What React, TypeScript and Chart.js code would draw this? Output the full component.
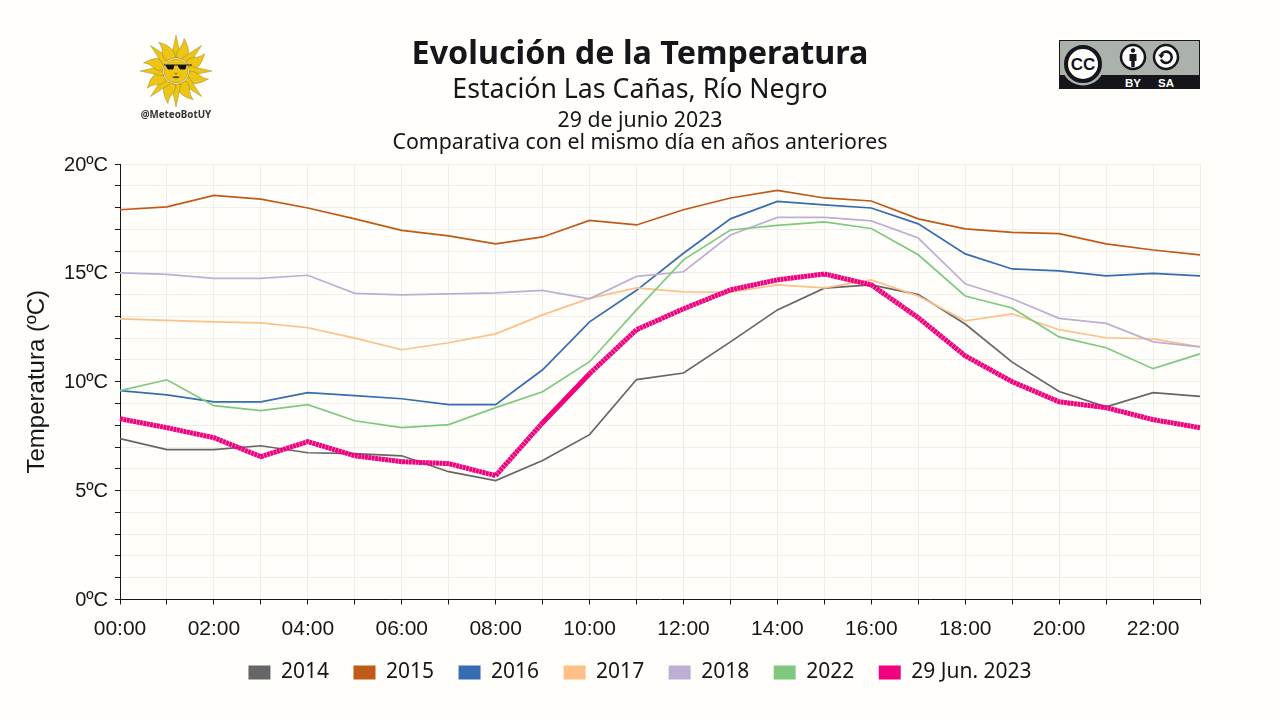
import React, { useEffect, useRef } from 'react';
import Chart from 'chart.js/auto';

const hours = ['00:00','01:00','02:00','03:00','04:00','05:00','06:00','07:00','08:00','09:00','10:00','11:00','12:00','13:00','14:00','15:00','16:00','17:00','18:00','19:00','20:00','21:00','22:00','23:00'];

const t2014 = [7.39,6.88,6.88,7.06,6.74,6.70,6.60,5.87,5.46,6.38,7.57,10.1,10.4,11.83,13.3,14.3,14.45,14.0,12.65,10.9,9.55,8.85,9.5,9.33];
const t2015 = [17.9,18.03,18.56,18.39,17.98,17.48,16.95,16.7,16.33,16.65,17.41,17.2,17.9,18.44,18.79,18.44,18.3,17.48,17.02,16.86,16.8,16.33,16.05,15.83];
const t2016 = [9.59,9.4,9.08,9.08,9.5,9.36,9.22,8.95,8.95,10.55,12.75,14.2,15.9,17.48,18.28,18.12,17.98,17.25,15.87,15.18,15.09,14.86,14.98,14.86];
const t2017 = [12.89,12.82,12.75,12.7,12.48,12.0,11.47,11.79,12.2,13.07,13.83,14.31,14.13,14.11,14.45,14.31,14.68,13.94,12.8,13.12,12.39,12.02,11.97,11.6];
const t2018 = [15.0,14.93,14.75,14.75,14.89,14.06,13.99,14.04,14.08,14.2,13.81,14.84,15.05,16.74,17.55,17.55,17.39,16.6,14.5,13.81,12.91,12.68,11.83,11.6];
const t2022 = [9.59,10.09,8.9,8.67,8.95,8.21,7.89,8.03,8.81,9.54,10.92,13.3,15.6,16.97,17.18,17.34,17.04,15.83,13.94,13.39,12.06,11.56,10.6,11.28];
const t2023 = [8.3,7.89,7.43,6.56,7.25,6.6,6.33,6.24,5.69,8.12,10.37,12.39,13.35,14.22,14.68,14.95,14.45,12.94,11.19,10.0,9.08,8.81,8.26,7.89];

const seriesNames = ['2014', '2015', '2016', '2017', '2018', '2022', '29 Jun. 2023'];
const seriesValues = [t2014, t2015, t2016, t2017, t2018, t2022, t2023];
const seriesColors = ['#666666', '#bf5b17', '#386cb0', '#fdc086', '#beaed4', '#7fc97f', '#f0027f'];

const BG = '#fffefb';
const GRID = '#efeee8';
const INK = '#16161a';
const TEXT_FONT = '"Noto Sans", sans-serif';
const AXIS_FONT = '"Liberation Sans", Arial, sans-serif';
const DASH = [3, 0.4];

// sol de la bandera, solo decoracion
const Sun = () => {
  const rays = [];
  for (let i = 0; i < 16; i++) {
    const straight = i % 2 === 0;
    rays.push(
      <path
        key={i}
        transform={`rotate(${i * 22.5} 36 36)`}
        d={straight
          ? 'M31 23 L36 0 L41 23 Z'
          : 'M31 23 C27 16 34 11 31 3 C38 8 43 15 41 23 Z'}
        fill="#ecc515"
        stroke="#8b7a2a"
        strokeWidth={0.4}
      />
    );
  }
  return (
    <svg width={72} height={72} viewBox="0 0 72 72" style={{ position: 'absolute', left: 140, top: 35 }}>
      {rays}
      <circle cx={36} cy={36} r={12} fill="#ecc515" stroke="#8b7a2a" strokeWidth={0.4} />
      <path d="M24 30 H52 M26 30.5 h8 l-1 3.5 h-5 Z M38 30.5 h8 l-1 3.5 h-5 Z" fill="#111" stroke="#111" strokeWidth={0.9} />
      <path d="M34.5 38 q1.5 2 3 0" fill="none" stroke="#5a4a10" strokeWidth={0.8} />
      <path d="M32 42 q4 -1.6 8 0 q-4 2.6 -8 0 Z" fill="#4a3c0c" />
    </svg>
  );
};

const CcBadge = () => (
  <svg width={141} height={49} viewBox="0 0 141 49" style={{ position: 'absolute', left: 1059, top: 40 }}>
    <rect x={0} y={0} width={141} height={49} fill="#aab2ab" />
    <rect x={0} y={35} width={141} height={14} fill="#16161a" />
    <rect x={0.5} y={0.5} width={140} height={48} fill="none" stroke="#16161a" />
    <circle cx={24} cy={24} r={21.5} fill="#aab2ab" />
    <circle cx={24} cy={24} r={17} fill="#fff" stroke="#16161a" strokeWidth={4} />
    <text x={24} y={30} textAnchor="middle" fontFamily={AXIS_FONT} fontWeight="bold" fontSize={17} fill="#16161a">CC</text>
    <circle cx={74} cy={17} r={12} fill="#fff" stroke="#16161a" strokeWidth={2.5} />
    <circle cx={74} cy={10.5} r={2.2} fill="#16161a" />
    <path d="M70.5 14 h7 v7 h-1.8 v6 h-3.4 v-6 h-1.8 Z" fill="#16161a" />
    <circle cx={107} cy={17} r={12} fill="#fff" stroke="#16161a" strokeWidth={2.5} />
    <path d="M102 15 a5.6 5.6 0 1 1 0 4.5" fill="none" stroke="#16161a" strokeWidth={2.6} />
    <path d="M99 14.5 h6.5 l-3.2 4 Z" fill="#16161a" />
    <text x={74} y={46.5} textAnchor="middle" fontFamily={AXIS_FONT} fontWeight="bold" fontSize={11.5} fill="#fff">BY</text>
    <text x={107} y={46.5} textAnchor="middle" fontFamily={AXIS_FONT} fontWeight="bold" fontSize={11.5} fill="#fff">SA</text>
  </svg>
);

const line = (top: number, size: number, text: string, weight = 400) => (
  <div style={{ position: 'absolute', left: 0, width: 1280, top, textAlign: 'center', fontFamily: TEXT_FONT, fontSize: size, fontWeight: weight, color: INK, lineHeight: 1.2, whiteSpace: 'nowrap' }}>
    {text}
  </div>
);

const App: React.FC = () => {
  const chartRef = useRef<HTMLCanvasElement>(null);

  useEffect(() => {
    if (!chartRef.current) return;

    const chart = new Chart(chartRef.current, {
      type: 'line',
      data: {
        labels: hours,
        datasets: seriesNames.map((name, i) => {
          const isToday = i === seriesNames.length - 1;
          return {
            label: name,
            data: seriesValues[i],
            borderColor: seriesColors[i],
            backgroundColor: seriesColors[i],
            borderWidth: isToday ? 5 : 1.7,
            borderDash: isToday ? DASH : [],
            pointRadius: 0,
            tension: 0,
            order: seriesNames.length - 1 - i,
            segment: isToday
              ? { borderDash: (ctx: any) => (ctx.p0DataIndex === 9 ? [] : DASH) }
              : undefined,
          };
        }),
      },
      options: {
        responsive: false,
        animation: false,
        devicePixelRatio: 1,
        layout: { padding: { top: 164, bottom: 27, left: 0, right: 0 } },
        plugins: {
          tooltip: { enabled: false },
          legend: {
            position: 'bottom',
            labels: {
              boxWidth: 22,
              boxHeight: 14,
              padding: 24.5,
              color: INK,
              font: { family: TEXT_FONT, size: 21 },
              sort: (a, b) => a.datasetIndex! - b.datasetIndex!,
              generateLabels: (c) =>
                Chart.defaults.plugins.legend.labels.generateLabels(c).map((item) => ({
                  ...item,
                  lineWidth: 0,
                  lineDash: [],
                })),
            },
          },
        },
        scales: {
          x: {
            type: 'category',
            offset: false,
            afterFit: (scale) => { scale.height = 38; },
            grid: { color: GRID, lineWidth: 1, tickLength: 5, tickColor: '#16161a' },
            border: { color: '#16161a', width: 1 },
            ticks: {
              autoSkip: false,
              maxRotation: 0,
              padding: 12,
              color: INK,
              font: { family: AXIS_FONT, size: 21 },
              callback: (_v, i) => (i % 2 === 0 ? hours[i] : ''),
            },
          },
          y: {
            min: 0,
            max: 20,
            afterFit: (scale) => { scale.width = 120; },
            grid: { color: GRID, lineWidth: 1, tickLength: 5, tickColor: '#16161a' },
            border: { color: '#16161a', width: 1 },
            title: {
              display: true,
              text: 'Temperatura (ºC)',
              color: INK,
              padding: { top: 23, bottom: 0 },
              font: { family: AXIS_FONT, size: 24 },
            },
            ticks: {
              stepSize: 1,
              autoSkip: false,
              padding: 7,
              labelOffset: 1,
              color: INK,
              font: { family: AXIS_FONT, size: 20 },
              callback: (v) => (Number(v) % 5 === 0 ? `${v}ºC` : ''),
            },
          },
          // eje vacio para reservar el margen derecho y centrar la leyenda
          right: {
            position: 'right',
            afterFit: (scale) => { scale.width = 80; },
            grid: { display: false },
            border: { display: false },
            ticks: { display: false },
          },
        },
      },
    });

    return () => {
      chart.destroy();
    };
  }, []);

  return (
    <div style={{ position: 'fixed', left: 0, top: 0, width: 1280, height: 720, background: BG, overflow: 'hidden' }}>
      <canvas ref={chartRef} width={1280} height={720} style={{ position: 'absolute', left: 0, top: 0 }} />
      {line(32, 32.3, 'Evolución de la Temperatura', 700)}
      {line(72, 26.7, 'Estación Las Cañas, Río Negro')}
      {line(106, 21.3, '29 de junio 2023')}
      {line(128, 21.3, 'Comparativa con el mismo día en años anteriores')}
      <Sun />
      <div style={{ position: 'absolute', left: 126, width: 100, top: 109, textAlign: 'center', fontFamily: TEXT_FONT, fontWeight: 700, fontSize: 9.8, color: '#333', lineHeight: 1.2 }}>@MeteoBotUY</div>
      <CcBadge />
    </div>
  );
};

export default App;
